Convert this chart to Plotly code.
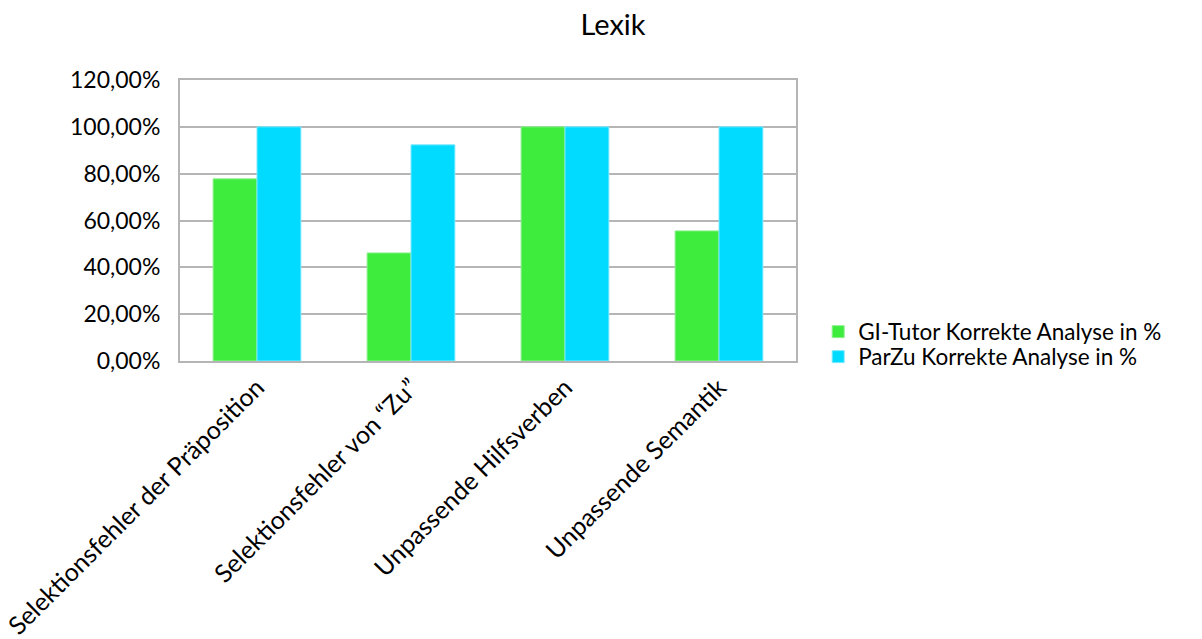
import plotly.graph_objects as go

categories = [
    "Selektionsfehler der Präposition",
    "Selektionsfehler von “Zu”",
    "Unpassende Hilfsverben",
    "Unpassende Semantik",
]
gi_tutor = [0.7778, 0.4615, 1.0, 0.5556]
parzu = [1.0, 0.9231, 1.0, 1.0]
y_ticks = [0, 0.2, 0.4, 0.6, 0.8, 1.0, 1.2]

font_family = "Lato, Carlito, Calibri, sans-serif"

fig = go.Figure()
fig.add_trace(go.Bar(
    x=categories, y=gi_tutor, name="GI-Tutor Korrekte Analyse in %",
    marker=dict(color="#3eec3e", line=dict(color="#8ef08e", width=1)),
    legend="legend",
))
fig.add_trace(go.Bar(
    x=categories, y=parzu, name="ParZu Korrekte Analyse in %",
    marker=dict(color="#00dbff", line=dict(color="#7fe9ff", width=1)),
    legend="legend2",
))

# plot area spans y = 80..361 px; legend rows centred at 332 and 357 px
legend_style = dict(x=1.036, xanchor="left", yanchor="middle",
                    font=dict(size=22.5), itemwidth=30,
                    bgcolor="rgba(0,0,0,0)")

fig.update_layout(
    width=1202, height=639,
    margin=dict(l=180, r=406, t=80, b=278, autoexpand=False),
    paper_bgcolor="white", plot_bgcolor="white",
    separators=",.",
    font=dict(family=font_family, size=23, color="black"),
    title=dict(text="Lexik", x=0.51, xanchor="center", y=0.961, yanchor="middle",
               font=dict(size=29, family=font_family)),
    barmode="group", bargap=0.43, bargroupgap=0,
    showlegend=True,
    legend=dict(y=(361 - 332) / 281, **legend_style),
    legend2=dict(y=(361 - 357) / 281, **legend_style),
    xaxis=dict(tickangle=-45, showline=True, linecolor="#b5b5b5", linewidth=2,
               mirror=True, ticks="", tickfont=dict(size=25), automargin=False),
    yaxis=dict(range=[0, 1.2], tickvals=y_ticks, tickformat=".2%",
               showgrid=True, gridcolor="#b5b5b5", gridwidth=1.5,
               showline=True, linecolor="#b5b5b5", linewidth=2, mirror=True,
               ticks="", ticklen=0, ticklabelstandoff=13,
               tickfont=dict(size=23), zeroline=False, automargin=False),
)

fig.write_html("out.html")
